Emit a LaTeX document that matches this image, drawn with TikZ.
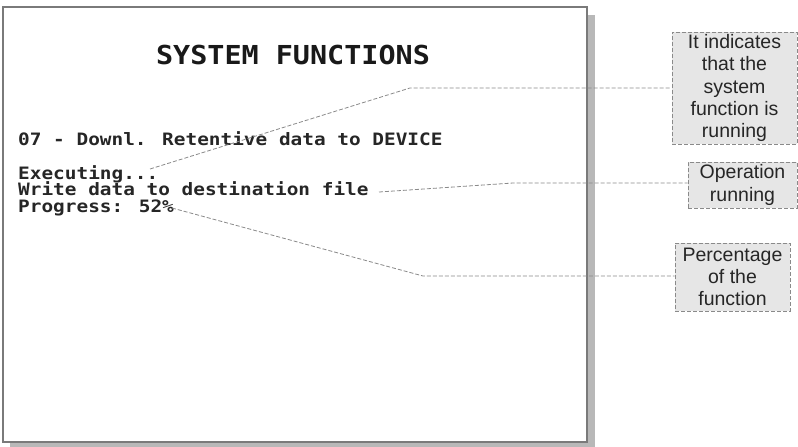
\documentclass[tikz,border=0pt]{standalone}
\usepackage{fontspec}
\setmainfont{Liberation Sans}
\newfontfamily\lcdfont{DejaVu Sans Mono}
\definecolor{framegray}{HTML}{7A7A7A}
\definecolor{shadowgray}{HTML}{B8B8B8}
\definecolor{calloutfill}{HTML}{E6E6E6}
\definecolor{dashgray}{HTML}{8A8A8A}
\begin{document}
\begin{tikzpicture}[x=1pt,y=-1pt,
  screentext/.style={anchor=base west, inner sep=0pt, font=\lcdfont\bfseries\fontsize{19.4}{20}\selectfont, text=black!85},
  callout/.style={draw=dashgray, dash pattern=on 4pt off 2pt, line width=0.9pt, fill=calloutfill, inner sep=0pt, align=center, font=\fontsize{19.5}{22.3}\selectfont, text=black!85},
  leader/.style={draw=dashgray, dash pattern=on 4pt off 2pt, line width=0.8pt}]
\useasboundingbox (0,0) rectangle (798,447);
% screen shadow and frame
\fill[shadowgray] (10,15) rectangle (595,447);
\draw[framegray, line width=1.2pt, fill=white] (3,7) rectangle (587,442);
% screen texts
\node[anchor=base, inner sep=0pt, font=\lcdfont\bfseries\fontsize{29}{30}\selectfont, text=black!90] (title) at (293,64) {\scalebox{0.98}[0.9]{SYSTEM FUNCTIONS}};
\node[screentext] (l1) at (18,145) {\scalebox{1}[0.88]{07 - Downl. Retentive data to DEVICE}};
\node[screentext] (l2) at (18,179) {\scalebox{1}[0.88]{Executing...}};
\node[screentext] (l3) at (18,195) {\scalebox{1}[0.88]{Write data to destination file}};
\node[screentext] (l4) at (18,212) {\scalebox{1}[0.88]{Progress: 52\%}};
% callouts
\node[callout, minimum width=125pt, minimum height=112pt] (b1) at (734.5,88) {It indicates\\that the\\system\\function is\\running};
\node[callout, minimum width=109pt, minimum height=46pt] (b2) at (742.5,185) {Operation\\running};
\node[callout, minimum width=115pt, minimum height=68pt] (b3) at (732.5,277) {Percentage\\of the\\function};
% leader lines
\coordinate (s1) at (150,169);
\coordinate (k1) at (410,88);
\coordinate (s2) at (379,192);
\coordinate (k2) at (513,183);
\coordinate (s3) at (172,208);
\coordinate (k3) at (423,276);
\draw[leader] (s1) -- (k1) -- (k1 -| b1.west);
\draw[leader] (s2) -- (k2) -- (k2 -| b2.west);
\draw[leader] (s3) -- (k3) -- (k3 -| b3.west);
\end{tikzpicture}
\end{document}
